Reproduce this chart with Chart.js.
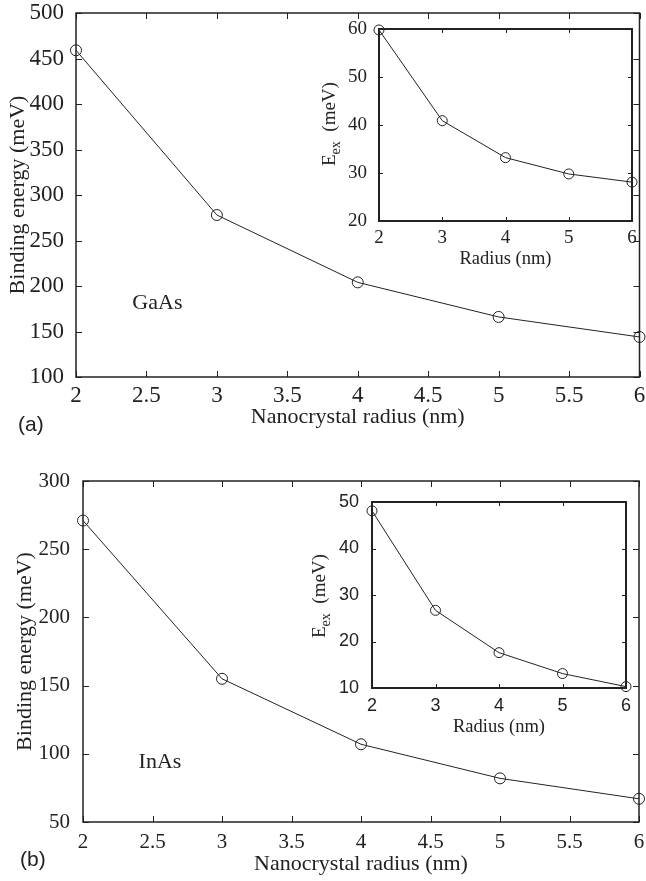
<!DOCTYPE html>
<html lang="en">
<head>
  <meta charset="UTF-8">
  <meta name="viewport" content="width=device-width, initial-scale=1.0">
  <title>Exciton binding energy vs nanocrystal radius</title>
  <script src="https://cdn.jsdelivr.net/npm/chart.js"></script>
  <style>
    html, body { margin: 0; padding: 0; background: #fff; overflow: hidden; }
    #wrap { position: relative; width: 646px; height: 881px; }
    canvas { position: absolute; }
    .txt { position: absolute; color: #222; white-space: nowrap; line-height: 1; }
    .panel { font: 21px "Liberation Sans", Arial, sans-serif; }
    .ex { font: 19px "Liberation Serif", "Times New Roman", serif; transform: translate(-50%, -50%) rotate(-90deg); }
    .ex sub { font-size: 14px; vertical-align: -5px; }
  </style>
</head>
<body>
  <div id="wrap">
    <canvas id="mainA" width="646" height="440" style="left:0;top:0"></canvas>
    <canvas id="insetA" width="326" height="270" style="left:320px;top:0"></canvas>
    <canvas id="mainB" width="646" height="441" style="left:0;top:440px"></canvas>
    <canvas id="insetB" width="326" height="300" style="left:320px;top:440px"></canvas>

    <div class="txt panel" style="left:18px;top:412px">(a)</div>
    <div class="txt panel" style="left:20px;top:847px">(b)</div>
    <div class="txt ex" style="left:331px;top:124px">E<sub>ex</sub>&nbsp;&nbsp;(meV)</div>
    <div class="txt ex" style="left:321px;top:596px">E<sub>ex</sub>&nbsp;&nbsp;(meV)</div>
  </div>

  <script>
    // values
    const radius = [2, 3, 4, 5, 6];
    const gaasBinding = [459, 278, 204, 166, 144];
    const gaasEex = [59.8, 40.9, 33.2, 29.8, 28.1];
    const inasBinding = [271, 155, 107, 82, 67];
    const inasEex = [48.1, 26.7, 17.6, 13.1, 10.3];

    const INK = '#222';
    const SERIF = '"Liberation Serif", "Times New Roman", serif';
    const SANS = '"Liberation Sans", Arial, sans-serif';

    // MATLAB-like box with inward ticks on all four sides, plus a text note
    const boxTicks = {
      id: 'boxTicks',
      beforeDatasetsDraw(chart, args, opts) {
        const { ctx, chartArea: a, scales: { x, y } } = chart;
        ctx.save();
        ctx.strokeStyle = INK;
        ctx.lineWidth = 1;
        ctx.beginPath();
        x.ticks.forEach(t => {
          const px = Math.round(x.getPixelForValue(t.value)) + 0.5;
          ctx.moveTo(px, a.bottom); ctx.lineTo(px, a.bottom - opts.len);
          ctx.moveTo(px, a.top); ctx.lineTo(px, a.top + opts.len);
        });
        y.ticks.forEach(t => {
          const py = Math.round(y.getPixelForValue(t.value)) + 0.5;
          ctx.moveTo(a.left, py); ctx.lineTo(a.left + opts.len, py);
          ctx.moveTo(a.right, py); ctx.lineTo(a.right - opts.len, py);
        });
        ctx.stroke();
        ctx.lineWidth = opts.frame;
        ctx.strokeRect(a.left, a.top, a.right - a.left, a.bottom - a.top);
        if (opts.note) {
          ctx.fillStyle = INK;
          ctx.font = '22px ' + SERIF;
          ctx.textBaseline = 'middle';
          ctx.fillText(opts.note.text, x.getPixelForValue(opts.note.x), y.getPixelForValue(opts.note.y));
        }
        ctx.restore();
      }
    };

    function makeChart(id, c) {
      return new Chart(document.getElementById(id), {
        type: 'line',
        data: {
          labels: radius,
          datasets: [{
            data: c.values.map((v, i) => ({ x: radius[i], y: v })),
            borderColor: INK,
            borderWidth: 1,
            pointStyle: 'circle',
            pointRadius: c.marker,
            pointBorderWidth: 1,
            pointBorderColor: INK,
            pointBackgroundColor: 'rgba(0,0,0,0)',
            tension: 0,
            clip: false
          }]
        },
        plugins: [boxTicks],
        options: {
          responsive: false,
          animation: false,
          events: [],
          layout: { padding: c.padding },
          plugins: {
            legend: { display: false },
            tooltip: { enabled: false },
            boxTicks: { len: c.tickLen, frame: c.frame, note: c.note }
          },
          scales: {
            x: {
              type: 'linear',
              min: c.x[0], max: c.x[1],
              grid: { display: false },
              border: { display: false },
              ticks: {
                stepSize: c.x[2], autoSkip: false, maxRotation: 0,
                color: INK, padding: c.tickPadX,
                font: { family: c.tickFamily, size: c.tickSize },
                callback: v => String(+v.toFixed(1))
              },
              title: c.xTitle ? {
                display: true, text: c.xTitle, color: INK,
                font: { family: SERIF, size: c.titleSize },
                padding: { top: 0, bottom: c.titlePadX }
              } : { display: false },
              afterFit: s => { s.height = c.xHeight; s.paddingLeft = 0; s.paddingRight = 0; }
            },
            y: {
              min: c.y[0], max: c.y[1],
              grid: { display: false },
              border: { display: false },
              ticks: {
                stepSize: c.y[2], color: INK, padding: c.tickPadY,
                font: { family: c.tickFamily, size: c.tickSize }
              },
              title: c.yTitle ? {
                display: true, text: c.yTitle, color: INK,
                font: { family: SERIF, size: c.titleSize },
                padding: { top: c.titlePadY, bottom: 0 }
              } : { display: false },
              afterFit: s => { s.width = c.yWidth; s.paddingTop = 0; s.paddingBottom = 0; }
            }
          }
        }
      });
    }

    makeChart('mainA', {
      values: gaasBinding, x: [2, 6, 0.5], y: [100, 500, 50],
      padding: { top: 13, right: 5, left: 0, bottom: 0 },
      yWidth: 76, xHeight: 63, marker: 5.5, tickLen: 6, frame: 1.5,
      tickFamily: SERIF, tickSize: 23, tickPadX: -3, tickPadY: 4,
      titleSize: 22, xTitle: 'Nanocrystal radius (nm)', yTitle: 'Binding energy (meV)',
      titlePadX: 10, titlePadY: 5,
      note: { text: 'GaAs', x: 2.4, y: 181 }
    });

    makeChart('insetA', {
      values: gaasEex, x: [2, 6, 1], y: [20, 60, 10],
      padding: { top: 29, right: 14, left: 0, bottom: 0 },
      yWidth: 59, xHeight: 49, marker: 5, tickLen: 4, frame: 2,
      tickFamily: SERIF, tickSize: 19, tickPadX: -2, tickPadY: 4,
      titleSize: 18.5, xTitle: 'Radius (nm)', yTitle: '',
      titlePadX: 0, titlePadY: 0
    });

    makeChart('mainB', {
      values: inasBinding, x: [2, 6, 0.5], y: [50, 300, 50],
      padding: { top: 41, right: 7, left: 0, bottom: 0 },
      yWidth: 83, xHeight: 59, marker: 5.5, tickLen: 6, frame: 1.5,
      tickFamily: SERIF, tickSize: 21, tickPadX: 0, tickPadY: 5,
      titleSize: 22, xTitle: 'Nanocrystal radius (nm)', yTitle: 'Binding energy (meV)',
      titlePadX: 4, titlePadY: 12,
      note: { text: 'InAs', x: 2.4, y: 93.6 }
    });

    makeChart('insetB', {
      values: inasEex, x: [2, 6, 1], y: [10, 50, 10],
      padding: { top: 62, right: 20, left: 0, bottom: 0 },
      yWidth: 52, xHeight: 52, marker: 5, tickLen: 4, frame: 2,
      tickFamily: SANS, tickSize: 18, tickPadX: -1, tickPadY: 5,
      titleSize: 18.5, xTitle: 'Radius (nm)', yTitle: '',
      titlePadX: 2, titlePadY: 0
    });
  </script>
</body>
</html>
